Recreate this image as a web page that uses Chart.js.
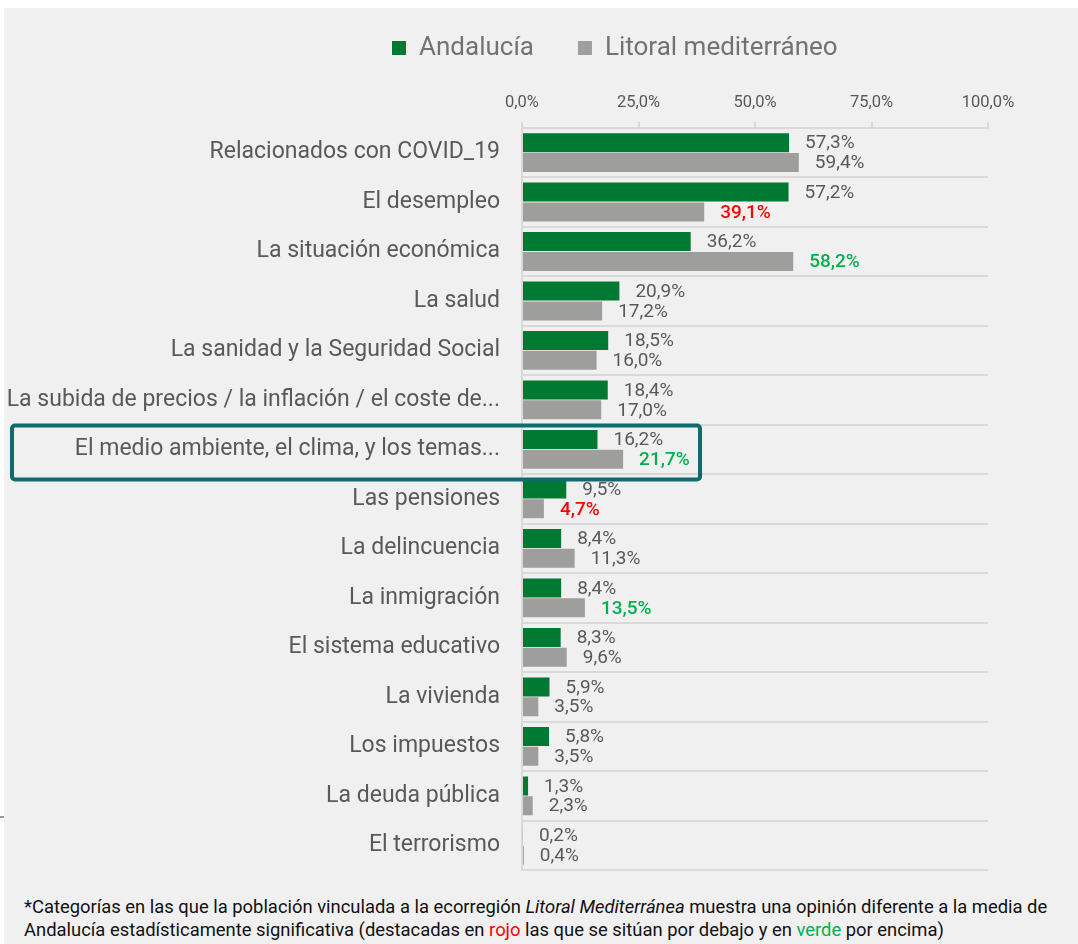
<!DOCTYPE html>
<html>
<head>
<meta charset="utf-8">
<script src="https://cdn.jsdelivr.net/npm/chart.js@4.4.1/dist/chart.umd.min.js"></script>
<style>
  html, body { margin: 0; padding: 0; background: #fff; }
  body { width: 1078px; height: 944px; position: relative; overflow: hidden; font-family: Roboto, sans-serif; }
  #panel { position: absolute; left: 4px; top: 8px; width: 1074px; height: 936px; background: #f0f0f0; }
  #wrap { position: absolute; left: 4px; top: 8px; width: 1074px; height: 878px; }
  #note { position: absolute; left: 24px; top: 895px; width: 1052px; font-size: 18.4px; line-height: 23px; color: #111; }
  #note .r { color: #ff0000; }
  #note .g { color: #00b050; }
  #mark { position: absolute; left: 0; top: 816px; width: 4px; height: 2px; background: #999; }
</style>
</head>
<body>
<div id="panel"></div>
<div id="mark"></div>
<div id="wrap"><canvas id="c"></canvas></div>
<div id="note">*Categorías en las que la población vinculada a la ecorregión <i>Litoral Mediterránea</i> muestra una opinión diferente a la media de Andalucía estadísticamente significativa (destacadas en <span class="r">rojo</span> las que se sitúan por debajo y en <span class="g">verde</span> por encima)</div>
<script>
const categories = [
  'Relacionados con COVID_19',
  'El desempleo',
  'La situación económica',
  'La salud',
  'La sanidad y la Seguridad Social',
  'La subida de precios / la inflación / el coste de...',
  'El medio ambiente, el clima, y los temas...',
  'Las pensiones',
  'La delincuencia',
  'La inmigración',
  'El sistema educativo',
  'La vivienda',
  'Los impuestos',
  'La deuda pública',
  'El terrorismo',
];
const andalucia = [57.3, 57.2, 36.2, 20.9, 18.5, 18.4, 16.2, 9.5, 8.4, 8.4, 8.3, 5.9, 5.8, 1.3, 0.2];
const litoral   = [59.4, 39.1, 58.2, 17.2, 16.0, 17.0, 21.7, 4.7, 11.3, 13.5, 9.6, 3.5, 3.5, 2.3, 0.4];
// significance of the Litoral value vs Andalucía: -1 below, 1 above, 0 none
const litoralSig = [0, -1, 1, 0, 0, 0, 1, -1, 0, 1, 0, 0, 0, 0, 0];
const xTicks = [0, 25, 50, 75, 100];
const highlightIndex = 6;

const GREEN = '#007a33';
const GREY  = '#9e9e9c';
const TEXT  = '#595959';
const FONT  = 'Roboto, sans-serif';

const fmt = v => v.toFixed(1).replace('.', ',') + '%';

const valueLabels = {
  id: 'valueLabels',
  afterDatasetsDraw(chart) {
    const ctx = chart.ctx;
    ctx.save();
    ctx.textBaseline = 'middle';
    ctx.textAlign = 'left';
    chart.data.datasets.forEach((ds, di) => {
      chart.getDatasetMeta(di).data.forEach((bar, i) => {
        let col = TEXT, weight = '400';
        if (di === 1 && litoralSig[i] !== 0) {
          col = litoralSig[i] < 0 ? '#ff0000' : '#00b050';
          weight = '500';
        }
        ctx.fillStyle = col;
        ctx.font = weight + ' 19px ' + FONT;
        ctx.fillText(fmt(ds.data[i]), bar.x + 16, bar.y + 1);
      });
    });
    ctx.restore();
  }
};

const highlight = {
  id: 'highlight',
  afterDraw(chart) {
    const { ctx, scales: { x, y } } = chart;
    const cy = y.getPixelForValue(highlightIndex) + 3;
    const half = 27;
    const left = 8, right = x.getPixelForValue(38.2);
    ctx.save();
    ctx.strokeStyle = '#0f6b6e';
    ctx.lineWidth = 4;
    ctx.beginPath();
    ctx.roundRect(left, cy - half, right - left, half * 2, 3);
    ctx.stroke();
    ctx.restore();
  }
};

// legend sits left of centre and close to the top, and takes less height
const legendShift = {
  id: 'legendShift',
  afterInit(chart) {
    const lg = chart.legend;
    const fit = lg.fit.bind(lg);
    lg.fit = function () { fit(); this.height -= 11; };
  },
  afterLayout(chart) {
    const lg = chart.legend;
    const pad = lg.options.labels.padding;
    const x0 = (lg.left + pad + lg.right - lg.lineWidths[0]) / 2;
    const dx = 388 - x0;
    lg.left += dx; lg.right += dx;
    const dy = (40 - pad - 13) - lg.top;
    lg.top += dy; lg.bottom += dy;
  }
};

new Chart(document.getElementById('c'), {
  type: 'bar',
  data: {
    labels: categories,
    datasets: [
      { label: 'Andalucía', data: andalucia, backgroundColor: GREEN,
        categoryPercentage: 0.8, barPercentage: 0.96 },
      { label: 'Litoral mediterráneo', data: litoral, backgroundColor: GREY,
        categoryPercentage: 0.8, barPercentage: 0.96 },
    ],
  },
  options: {
    indexAxis: 'y',
    responsive: true,
    maintainAspectRatio: false,
    animation: false,
    layout: { padding: { top: 7, right: 90, bottom: 16, left: 0 } },
    plugins: {
      legend: {
        position: 'top',
        labels: {
          boxWidth: 14, boxHeight: 14, padding: 44,
          color: '#767171',
          font: { family: FONT, size: 26 },
        },
      },
      tooltip: { enabled: false },
    },
    scales: {
      x: {
        position: 'top',
        min: 0, max: 100,
        afterBuildTicks: s => { s.ticks = xTicks.map(v => ({ value: v })); },
        ticks: { color: TEXT, font: { family: FONT, size: 16.5 }, padding: 9,
                 callback: v => fmt(v) },
        grid: { drawOnChartArea: false, color: '#d9d9d9', lineWidth: 2, tickLength: 6 },
        border: { color: '#d9d9d9', width: 2 },
      },
      y: {
        afterFit: s => { s.width = 518; },
        ticks: { color: TEXT, font: { family: FONT, size: 23 }, padding: 2, autoSkip: false },
        grid: { color: '#d9d9d9', lineWidth: 2, offset: true, tickLength: 20, tickColor: 'transparent' },
        border: { color: '#d9d9d9', width: 2 },
      },
    },
  },
  plugins: [valueLabels, highlight, legendShift],
});
</script>
</body>
</html>
